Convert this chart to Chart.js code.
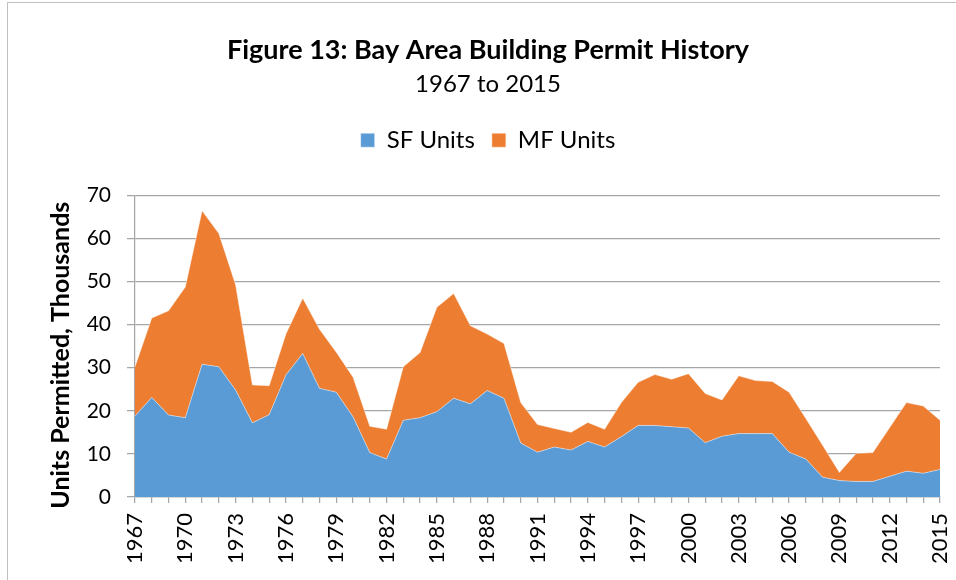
<!DOCTYPE html>
<html><head><meta charset="utf-8">
<script src="https://cdn.jsdelivr.net/npm/chart.js@4.4.1/dist/chart.umd.min.js"></script>
<style>
html,body{margin:0;padding:0;background:#fff;overflow:hidden}
#frame{position:absolute;left:7px;top:2px;width:1000px;height:1000px;border-left:1.5px solid #BFBFBF;border-top:1.5px solid #BFBFBF}
#wrap{position:absolute;left:0;top:0;width:956px;height:580px}
</style></head><body>
<div id="frame"></div>
<div id="wrap"><canvas id="c" width="956" height="580"></canvas></div>
<script>
const years = [1967,1968,1969,1970,1971,1972,1973,1974,1975,1976,1977,1978,1979,1980,1981,1982,1983,1984,1985,1986,1987,1988,1989,1990,1991,1992,1993,1994,1995,1996,1997,1998,1999,2000,2001,2002,2003,2004,2005,2006,2007,2008,2009,2010,2011,2012,2013,2014,2015];
const sfUnits = [18.8,23.1,19.0,18.4,30.8,30.2,24.8,17.2,19.1,28.3,33.3,25.2,24.3,18.6,10.3,8.8,17.8,18.4,19.8,22.9,21.6,24.7,22.9,12.5,10.4,11.6,10.9,12.9,11.6,14.0,16.6,16.6,16.3,16.0,12.6,14.1,14.7,14.7,14.7,10.4,8.8,4.6,3.8,3.6,3.6,4.8,6.0,5.5,6.4];
const mfUnits = [11.4,18.4,24.2,30.3,35.6,30.9,24.4,8.8,6.7,9.5,12.8,13.7,9.3,9.2,6.1,6.9,12.4,15.1,24.2,24.3,18.1,13.1,12.7,9.4,6.4,4.3,4.1,4.4,4.1,7.9,10.0,11.8,11.0,12.6,11.4,8.4,13.4,12.3,12.1,13.9,9.4,7.4,1.9,6.5,6.7,11.3,15.9,15.6,11.4];
const yTickValues = [0,10,20,30,40,50,60,70];
const labelEvery = 3;

const FONT = 'Lato, "Noto Sans", sans-serif';
const GRID = '#A6A6A6';

const legendGap = {
  id: 'legendGap',
  beforeLayout(chart) {
    const lg = chart.legend;
    if (lg && !lg._gapPatched) {
      const orig = lg.fit.bind(lg);
      lg.fit = function () { orig(); this.height += 33; };
      lg._gapPatched = true;
    }
  }
};

new Chart(document.getElementById('c'), {
  type: 'line',
  data: {
    labels: years.map(String),
    datasets: [
      { label: 'SF Units', data: sfUnits, backgroundColor: '#5B9BD5', borderColor: 'rgba(255,255,255,0.55)', borderWidth: 0.8, fill: 'origin', pointRadius: 0, tension: 0 },
      { label: 'MF Units', data: mfUnits, backgroundColor: '#ED7D31', borderColor: 'rgba(255,255,255,0.55)', borderWidth: 0.8, fill: '-1', pointRadius: 0, tension: 0 }
    ]
  },
  plugins: [legendGap],
  options: {
    responsive: false,
    animation: false,
    devicePixelRatio: 1,
    layout: { padding: { left: 36, right: 16, top: 0, bottom: 0 } },
    plugins: {
      title: { display: true, text: 'Figure 13: Bay Area Building Permit History', color: '#000', font: { family: FONT, size: 27, weight: 'bold' }, padding: { top: 34, bottom: 3 } },
      subtitle: { display: true, text: '1967 to 2015', color: '#000', font: { family: FONT, size: 24 }, padding: { top: 0, bottom: 13 } },
      legend: { display: true, position: 'top', labels: { color: '#000', font: { family: FONT, size: 24 }, boxWidth: 14, boxHeight: 14, padding: 17 } },
      tooltip: { enabled: false }
    },
    scales: {
      x: {
        type: 'category',
        offset: false,
        grid: { display: true, drawOnChartArea: false, drawTicks: true, tickLength: 6, color: GRID, lineWidth: 1.25 },
        border: { display: true, color: GRID, width: 1.25 },
        ticks: {
          autoSkip: false, maxRotation: 90, minRotation: 90, padding: 10, color: '#000',
          font: { family: FONT, size: 22 },
          callback: function (v, i) { return i % labelEvery === 0 ? this.getLabelForValue(v) : ''; }
        },
        afterFit: (s) => { s.height = 83; s.paddingLeft = 0; s.paddingRight = 0; }
      },
      y: {
        stacked: true,
        min: 0, max: 70,
        afterBuildTicks: (s) => { s.ticks = yTickValues.map(v => ({ value: v })); },
        grid: { color: GRID, lineWidth: 1.25, tickLength: 8, drawTicks: true },
        border: { display: true, color: GRID, width: 1.25 },
        ticks: { color: '#000', font: { family: FONT, size: 21 }, padding: 16 },
        title: { display: true, text: 'Units Permitted, Thousands   ', color: '#000', font: { family: FONT, size: 25, weight: 'bold' }, padding: { top: 10, bottom: 0 } },
        afterFit: (s) => { s.width = 99; }
      }
    }
  }
});
</script>
</body></html>
